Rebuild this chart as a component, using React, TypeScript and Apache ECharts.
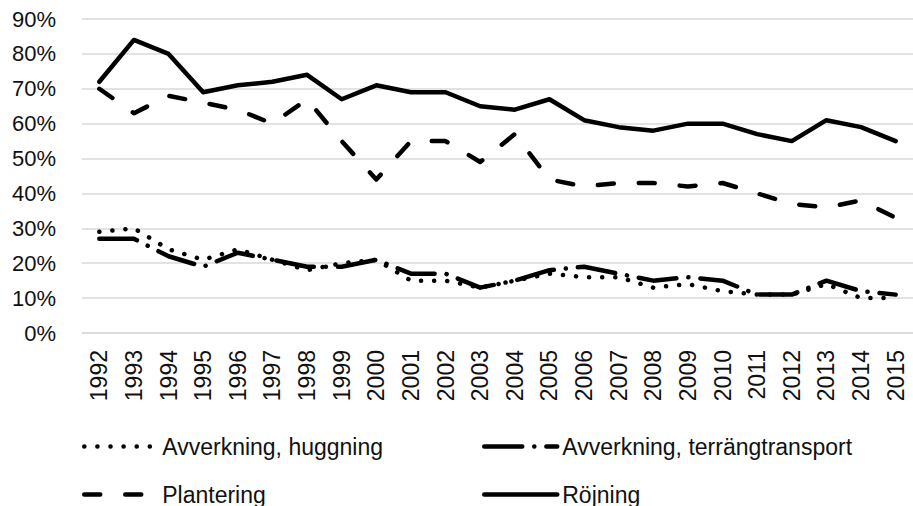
import React, { useEffect, useRef } from "react";
import * as echarts from "echarts";

const years = ["1992","1993","1994","1995","1996","1997","1998","1999","2000","2001","2002","2003","2004","2005","2006","2007","2008","2009","2010","2011","2012","2013","2014","2015"];
const huggning = [29,30,24,21,24,21,18,20,21,15,15,13,15,17,16,16,13,14,12,11,11,14,10,10];
const terrang = [27,27,22,19,23,21,19,19,21,17,17,13,15,18,19,17,15,16,15,11,11,15,12,11];
const plantering = [70,63,68,66,64,60,67,55,44,55,55,49,57,44,42,43,43,42,43,40,37,36,38,33];
const rojning = [72,84,80,69,71,72,74,67,71,69,69,65,64,67,61,59,58,60,60,57,55,61,59,55];

const names = ["Avverkning, huggning", "Avverkning, terrängtransport", "Plantering", "Röjning"];

const FONT = "'Liberation Sans', Arial, sans-serif";

export default function App() {
  const ref = useRef<HTMLDivElement>(null);
  useEffect(() => {
    if (!ref.current) return;
    const chart = echarts.init(ref.current, undefined, { renderer: "svg" });
    const mk = (name: string, data: number[], dash: number[] | "solid") => ({
      name,
      type: "line",
      data,
      symbol: "none",
      lineStyle: { color: "#000", width: 4.5, type: dash, cap: "round", join: "round" },
      itemStyle: { color: "transparent", opacity: 0 },
    });
    const legendCommon = {
      orient: "horizontal",
      padding: 0,
      itemWidth: 73,
      itemHeight: 22,
      itemStyle: { color: "transparent", opacity: 0, borderWidth: 0 },
      lineStyle: { width: 4.5, cap: "round" },
      textStyle: { fontFamily: FONT, fontSize: 23, color: "#111", lineHeight: 22 },
    };
    const leg = (name: string, left: number, top: number) => ({ ...legendCommon, left, top, data: [name] });
    chart.setOption({
      animation: false,
      backgroundColor: "#fff",
      grid: { left: 82, top: 19, width: 844, height: 314 },
      legend: [
        leg(names[0], 82, 435),
        leg(names[2], 82, 483),
        leg(names[1], 482, 435),
        leg(names[3], 482, 483),
      ],
      xAxis: {
        type: "category",
        data: years,
        boundaryGap: true,
        axisLine: { lineStyle: { color: "#d9d9d9", width: 1.5 } },
        axisTick: { show: false },
        axisLabel: { rotate: 90, margin: 17, fontFamily: FONT, fontSize: 23, color: "#111", interval: 0 },
      },
      yAxis: {
        type: "value",
        min: 0,
        max: 90,
        interval: 10,
        axisLine: { show: false },
        axisTick: { show: false },
        splitLine: { lineStyle: { color: "#d9d9d9", width: 1.5 } },
        axisLabel: { formatter: "{value}%", margin: 26, fontFamily: FONT, fontSize: 22, color: "#111" },
      },
      series: [
        mk(names[0], huggning, [0.1, 13]),
        mk(names[1], terrang, [38, 12, 0.1, 12]),
        mk(names[2], plantering, [16, 25]),
        mk(names[3], rojning, "solid"),
      ],
    });
    return () => chart.dispose();
  }, []);
  return (
    <div
      ref={ref}
      style={{ position: "fixed", left: 0, top: 0, width: 913, height: 506, background: "#fff" }}
    />
  );
}
